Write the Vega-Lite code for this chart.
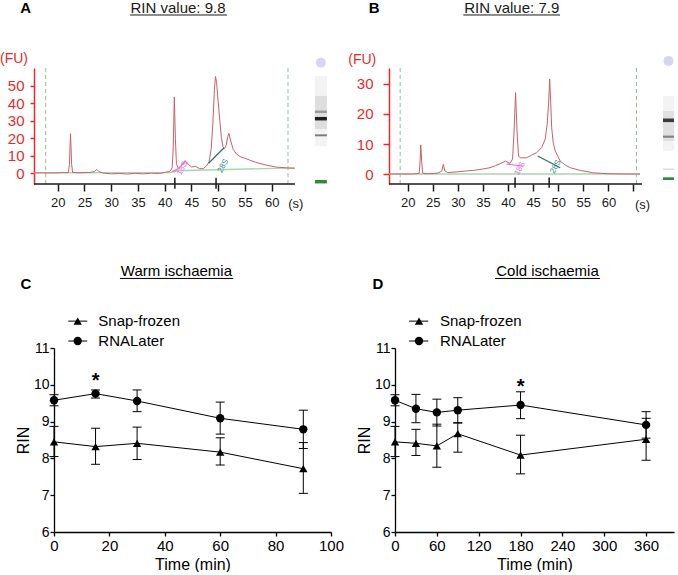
{
"$schema": "https://vega.github.io/schema/vega-lite/v6.json",
"background": "white",
"padding": {"left": 0, "top": 0, "right": 0, "bottom": 0},
"config": {"font": "Liberation Sans", "view": {"stroke": null}, "axis": {"grid": false, "labelOverlap": false, "labelBound": false, "labelFlush": false, "tickCount": 50, "format": "d"}},
"columns": 2,
"bounds": "flush",
"align": "each",
"spacing": {"row": 164, "column": 64},
"resolve": {"scale": {"x": "independent", "y": "independent", "shape": "independent", "stroke": "independent", "fill": "independent"}},
"datasets": {
"traceA": [{"t":15.6,"fu":0},{"t":17,"fu":0.1},{"t":19,"fu":0},{"t":21,"fu":0.2},{"t":22,"fu":0.2},{"t":22.2,"fu":5},{"t":22.4,"fu":22.6},{"t":22.6,"fu":5},{"t":22.8,"fu":0.3},{"t":24,"fu":0.1},{"t":26,"fu":0.3},{"t":26.9,"fu":0.8},{"t":27.3,"fu":2.1},{"t":27.7,"fu":0.8},{"t":28.5,"fu":0},{"t":30,"fu":-0.5},{"t":31.5,"fu":-0.3},{"t":33,"fu":-0.6},{"t":34.5,"fu":-0.2},{"t":36,"fu":-0.5},{"t":37.5,"fu":-0.1},{"t":39,"fu":-0.3},{"t":40,"fu":0.3},{"t":41,"fu":1.0},{"t":41.4,"fu":3},{"t":41.6,"fu":15},{"t":41.8,"fu":43.7},{"t":42,"fu":20},{"t":42.2,"fu":5},{"t":42.6,"fu":2.5},{"t":43.2,"fu":4.5},{"t":43.8,"fu":6.9},{"t":44.4,"fu":5},{"t":45,"fu":3.5},{"t":45.8,"fu":3.8},{"t":46.5,"fu":2.5},{"t":47.2,"fu":2.5},{"t":47.8,"fu":4},{"t":48.3,"fu":6.5},{"t":48.7,"fu":14},{"t":49,"fu":28},{"t":49.3,"fu":48},{"t":49.5,"fu":55.5},{"t":49.7,"fu":52},{"t":50,"fu":41},{"t":50.3,"fu":30},{"t":50.6,"fu":20.5},{"t":50.9,"fu":15},{"t":51.2,"fu":14},{"t":51.5,"fu":16},{"t":51.8,"fu":21},{"t":52,"fu":22.8},{"t":52.3,"fu":19},{"t":52.8,"fu":13.6},{"t":53.4,"fu":11},{"t":54.1,"fu":9.4},{"t":55,"fu":8.5},{"t":55.9,"fu":7.4},{"t":57,"fu":6.2},{"t":58.4,"fu":5},{"t":59.5,"fu":4.2},{"t":60.9,"fu":3.4},{"t":62.5,"fu":3},{"t":64.3,"fu":2.7}],
"baseA": [{"t":15.6,"fu":0.1},{"t":41.2,"fu":0.3},{"t":42.5,"fu":1.3},{"t":64.3,"fu":3.0}],
"segA": [{"seg":"18S","t":41.4,"fu":0.8},{"seg":"18S","t":42.6,"fu":2.5},{"seg":"18S","t":43.2,"fu":4.5},{"seg":"18S","t":43.8,"fu":6.9},{"seg":"18S","t":44.4,"fu":5.0},{"seg":"28S","t":48.2,"fu":5.6},{"seg":"28S","t":51.1,"fu":14.5}],
"gelA": [{"part":"lane","t1":68.08,"t2":70.32,"top":55.7,"bottom":15.5},{"part":"smear","t1":68.08,"t2":70.32,"top":44.3,"bottom":25.3},{"part":"faint band","t1":68.08,"t2":70.32,"top":35.9,"bottom":34.5},{"part":"dark band","t1":68.08,"t2":70.32,"top":32.2,"bottom":30.2},{"part":"mid band","t1":68.08,"t2":70.32,"top":22.2,"bottom":21.1},{"part":"marker","t1":68.08,"t2":70.32,"top":-4.0,"bottom":-6.0}],
"traceB": [{"t":16.3,"fu":0},{"t":18.5,"fu":0},{"t":21,"fu":0},{"t":22.3,"fu":0.2},{"t":22.5,"fu":5},{"t":22.6,"fu":9.7},{"t":22.8,"fu":4},{"t":23,"fu":0.2},{"t":24.3,"fu":0.1},{"t":26,"fu":0.3},{"t":26.8,"fu":1.0},{"t":27.1,"fu":3.2},{"t":27.4,"fu":1.0},{"t":28,"fu":0.5},{"t":29.8,"fu":0.7},{"t":31.5,"fu":1.0},{"t":33.1,"fu":1.2},{"t":34.8,"fu":1.6},{"t":36.4,"fu":2.1},{"t":37.5,"fu":2.8},{"t":38.4,"fu":3.4},{"t":39.5,"fu":4.3},{"t":40.4,"fu":3.5},{"t":40.9,"fu":5},{"t":41.2,"fu":14},{"t":41.5,"fu":27.1},{"t":41.8,"fu":14},{"t":42.1,"fu":6},{"t":42.4,"fu":5.4},{"t":43.7,"fu":5.4},{"t":44.7,"fu":6.3},{"t":45.7,"fu":7.1},{"t":46.7,"fu":8.8},{"t":47.4,"fu":11.6},{"t":47.8,"fu":16.6},{"t":48.1,"fu":24},{"t":48.3,"fu":31.6},{"t":48.5,"fu":24},{"t":48.7,"fu":15.4},{"t":49,"fu":10.5},{"t":49.4,"fu":7.7},{"t":50.4,"fu":4.3},{"t":51.4,"fu":3.0},{"t":52.4,"fu":2.1},{"t":54.4,"fu":1.2},{"t":57,"fu":0.4},{"t":59.7,"fu":0.1},{"t":63,"fu":0},{"t":66.3,"fu":0}],
"baseB": [{"t":16.3,"fu":0},{"t":66.3,"fu":0}],
"segB": [{"seg":"18S","t":39.7,"fu":3.4},{"seg":"18S","t":41.2,"fu":3.0},{"seg":"18S","t":43.0,"fu":2.6},{"seg":"28S","t":45.9,"fu":6.0},{"seg":"28S","t":50.4,"fu":2.1}],
"gelB": [{"part":"lane","t1":70.88,"t2":73.08,"top":26,"bottom":7.7},{"part":"smear","t1":70.88,"t2":73.08,"top":21,"bottom":11},{"part":"dark band","t1":70.88,"t2":73.08,"top":18.5,"bottom":17.3},{"part":"mid band","t1":70.88,"t2":73.08,"top":12.8,"bottom":12.1},{"part":"faint band","t1":70.88,"t2":73.08,"top":1.8,"bottom":1.4},{"part":"marker","t1":70.88,"t2":73.08,"top":-1.1,"bottom":-2.0}],
"warm": [
{"series":"Snap-frozen","time":0,"rin":8.45,"lo":8.05,"hi":8.87},
{"series":"Snap-frozen","time":15,"rin":8.32,"lo":7.84,"hi":8.82},
{"series":"Snap-frozen","time":30,"rin":8.41,"lo":7.97,"hi":8.85},
{"series":"Snap-frozen","time":60,"rin":8.17,"lo":7.82,"hi":8.56},
{"series":"Snap-frozen","time":90,"rin":7.72,"lo":7.05,"hi":8.43},
{"series":"RNALater","time":0,"rin":9.58,"lo":9.43,"hi":9.73},
{"series":"RNALater","time":15,"rin":9.76,"lo":9.64,"hi":9.86},
{"series":"RNALater","time":30,"rin":9.56,"lo":9.27,"hi":9.86},
{"series":"RNALater","time":60,"rin":9.09,"lo":8.66,"hi":9.53},
{"series":"RNALater","time":90,"rin":8.79,"lo":8.27,"hi":9.31}],
"cold": [
{"series":"Snap-frozen","time":0,"rin":8.45,"lo":8.05,"hi":8.87},
{"series":"Snap-frozen","time":30,"rin":8.41,"lo":8.08,"hi":8.79},
{"series":"Snap-frozen","time":60,"rin":8.34,"lo":7.76,"hi":8.93},
{"series":"Snap-frozen","time":90,"rin":8.67,"lo":8.17,"hi":8.97},
{"series":"Snap-frozen","time":180,"rin":8.09,"lo":7.58,"hi":8.63},
{"series":"Snap-frozen","time":360,"rin":8.52,"lo":7.95,"hi":9.09},
{"series":"RNALater","time":0,"rin":9.58,"lo":9.43,"hi":9.73},
{"series":"RNALater","time":30,"rin":9.35,"lo":8.97,"hi":9.74},
{"series":"RNALater","time":60,"rin":9.25,"lo":8.88,"hi":9.61},
{"series":"RNALater","time":90,"rin":9.31,"lo":8.96,"hi":9.65},
{"series":"RNALater","time":180,"rin":9.45,"lo":9.08,"hi":9.81},
{"series":"RNALater","time":360,"rin":8.91,"lo":8.55,"hi":9.27}],
"legC": [{"series":"Snap-frozen","x1":5.16,"x2":12.0,"xm":8.55,"xt":16.0,"y":11.73},{"series":"RNALater","x1":5.16,"x2":12.0,"xm":8.55,"xt":16.0,"y":11.19}],
"legD": [{"series":"Snap-frozen","x1":20.1,"x2":47.7,"xm":34.4,"xt":64.5,"y":11.73},{"series":"RNALater","x1":20.1,"x2":47.7,"xm":34.4,"xt":64.5,"y":11.19}]
},
"concat": [
{
"width": 241, "height": 116,
"layer": [
{"data": {"values": [{"t":17.76},{"t":63.05}]},
 "mark": {"type":"rule","color":"#8dbf9b","strokeDash":[4,3],"strokeWidth":1},
 "encoding": {"x": {"field":"t","type":"quantitative","scale":{"domain":[19.31,64.36],"nice":false,"zero":false,"padding":0},
   "axis":{"values":[20,25,30,35,40,45,50,55,60],"tickCount":50,"format":"d","domain":false,"tickColor":"#1a1a1a","tickWidth":1.5,"tickSize":7,"labelFontSize":13,"labelColor":"#1a1a1a","labelPadding":5,"labelFlush":false,"labelOverlap":false,"title":null,"grid":false}}}},
{"data": {"name":"baseA"}, "mark": {"type":"line","color":"#a6d8b0","strokeWidth":1.3},
 "encoding": {"x": {"field":"t","type":"quantitative"},
   "y": {"field":"fu","type":"quantitative","scale":{"domain":[-6.32,60.34],"nice":false,"zero":false,"padding":0},
   "axis":{"values":[0,10,20,30,40,50],"tickCount":50,"format":"d","offset":20,"domainColor":"#e32b2b","domainWidth":1.5,"tickColor":"#e32b2b","tickWidth":1.5,"tickSize":4,"labelColor":"#e32b2b","labelFontSize":15,"labelPadding":6,"labelFlush":false,"labelOverlap":false,"title":null,"grid":false}}}},
{"data": {"name":"traceA"}, "mark": {"type":"line","color":"#c9606a","strokeWidth":1},
 "encoding": {"x": {"field":"t","type":"quantitative"}, "y": {"field":"fu","type":"quantitative"}}},
{"data": {"name":"segA"}, "mark": {"type":"line","strokeWidth":1.2},
 "encoding": {"x": {"field":"t","type":"quantitative"}, "y": {"field":"fu","type":"quantitative"},
   "stroke": {"field":"seg","type":"nominal","scale":{"domain":["18S","28S"],"range":["#e070d8","#2d6e68"]},"legend":null}}},
{"data": {"values": [{"t":15.57,"t2":64.36}]}, "mark": {"type":"rule","color":"#1a1a1a","strokeWidth":1.5},
 "encoding": {"x": {"field":"t","type":"quantitative"}, "x2": {"field":"t2"}, "y": {"datum": -6.32}}},
{"data": {"values": [{"t":41.9},{"t":49.6}]}, "mark": {"type":"rule","color":"#1a1a1a","strokeWidth":1.5},
 "encoding": {"x": {"field":"t","type":"quantitative"}, "y": {"datum": -2.7}, "y2": {"datum": -9}}},
{"data": {"name":"gelA"}, "mark": {"type":"rect"},
 "encoding": {"x": {"field":"t1","type":"quantitative"}, "x2": {"field":"t2"}, "y": {"field":"top","type":"quantitative"}, "y2": {"field":"bottom"},
   "fill": {"field":"part","type":"nominal","scale":{"domain":["lane","smear","faint band","dark band","mid band","marker"],"range":["#f3f3f3","#dedede","#9a9a9a","#1e1e1e","#7a7a7a","#2e8b3c"]},"legend":null}}},
{"data": {"values": [{"t":69.2,"fu":63.4}]}, "mark": {"type":"point","filled":true,"shape":"circle","size":100,"color":"#d6d6f0","opacity":1},
 "encoding": {"x": {"field":"t","type":"quantitative"}, "y": {"field":"fu","type":"quantitative"}}},
{"data": {"values": [{"t":43.33,"fu":2.6,"label":"18S"}]}, "mark": {"type":"text","angle":-62,"fontSize":8,"color":"#e070d8","align":"center","baseline":"middle"},
 "encoding": {"x": {"field":"t","type":"quantitative"}, "y": {"field":"fu","type":"quantitative"}, "text": {"field":"label"}}},
{"data": {"values": [{"t":50.96,"fu":4.0,"label":"28S"}]}, "mark": {"type":"text","angle":-62,"fontSize":8,"color":"#2d8a84","align":"center","baseline":"middle"},
 "encoding": {"x": {"field":"t","type":"quantitative"}, "y": {"field":"fu","type":"quantitative"}, "text": {"field":"label"}}},
{"data": {"values": [{"t":9.22,"fu":65.5,"label":"(FU)"}]}, "mark": {"type":"text","align":"left","baseline":"middle","fontSize":14,"color":"#e32b2b"},
 "encoding": {"x": {"field":"t","type":"quantitative"}, "y": {"field":"fu","type":"quantitative"}, "text": {"field":"label"}}},
{"data": {"values": [{"t":63.1,"fu":-18.1,"label":"(s)"}]}, "mark": {"type":"text","align":"left","baseline":"middle","fontSize":13,"color":"#1a1a1a"},
 "encoding": {"x": {"field":"t","type":"quantitative"}, "y": {"field":"fu","type":"quantitative"}, "text": {"field":"label"}}},
{"data": {"values": [{"t":14.02,"fu":92.1,"label":"A"}]}, "mark": {"type":"text","align":"center","baseline":"alphabetic","fontSize":15,"fontWeight":"bold","color":"black"},
 "encoding": {"x": {"field":"t","type":"quantitative"}, "y": {"field":"fu","type":"quantitative"}, "text": {"field":"label"}}},
{"data": {"values": [{"t":42.49,"fu":91.67,"label":"RIN value: 9.8"}]}, "mark": {"type":"text","align":"center","baseline":"alphabetic","fontSize":15,"color":"#1a1a1a"},
 "encoding": {"x": {"field":"t","type":"quantitative"}, "y": {"field":"fu","type":"quantitative"}, "text": {"field":"label"}}},
{"data": {"values": [{"t":33.52,"t2":51.65,"fu":90.8}]}, "mark": {"type":"rule","color":"#1a1a1a","strokeWidth":1},
 "encoding": {"x": {"field":"t","type":"quantitative"}, "x2": {"field":"t2"}, "y": {"field":"fu","type":"quantitative"}}}
]
},
{
"width": 247, "height": 116,
"layer": [
{"data": {"values": [{"t":18.5},{"t":65.6}]},
 "mark": {"type":"rule","color":"#8dbf9b","strokeDash":[4,3],"strokeWidth":1},
 "encoding": {"x": {"field":"t","type":"quantitative","scale":{"domain":[17.47,66.7],"nice":false,"zero":false,"padding":0},
   "axis":{"values":[20,25,30,35,40,45,50,55,60,65],"tickCount":50,"format":"d","labelExpr":"datum.value == 65 ? '' : datum.label","domain":false,"tickColor":"#1a1a1a","tickWidth":1.5,"tickSize":7,"labelFontSize":13,"labelColor":"#1a1a1a","labelPadding":5,"labelFlush":false,"labelOverlap":false,"title":null,"grid":false}}}},
{"data": {"name":"baseB"}, "mark": {"type":"line","color":"#a6d8b0","strokeWidth":1.3},
 "encoding": {"x": {"field":"t","type":"quantitative"},
   "y": {"field":"fu","type":"quantitative","scale":{"domain":[-3.33,35.33],"nice":false,"zero":false,"padding":0},
   "axis":{"values":[0,10,20,30],"tickCount":50,"format":"d","offset":6,"domainColor":"#e32b2b","domainWidth":1.5,"tickColor":"#e32b2b","tickWidth":1.5,"tickSize":6,"labelColor":"#e32b2b","labelFontSize":15,"labelPadding":10,"labelFlush":false,"labelOverlap":false,"title":null,"grid":false}}}},
{"data": {"name":"traceB"}, "mark": {"type":"line","color":"#c9606a","strokeWidth":1},
 "encoding": {"x": {"field":"t","type":"quantitative"}, "y": {"field":"fu","type":"quantitative"}}},
{"data": {"name":"segB"}, "mark": {"type":"line","strokeWidth":1.2},
 "encoding": {"x": {"field":"t","type":"quantitative"}, "y": {"field":"fu","type":"quantitative"},
   "stroke": {"field":"seg","type":"nominal","scale":{"domain":["18S","28S"],"range":["#e070d8","#2d6e68"]},"legend":null}}},
{"data": {"values": [{"t":16.3,"t2":66.7}]}, "mark": {"type":"rule","color":"#1a1a1a","strokeWidth":1.5},
 "encoding": {"x": {"field":"t","type":"quantitative"}, "x2": {"field":"t2"}, "y": {"datum": -3.33}}},
{"data": {"values": [{"t":41.4},{"t":48.2}]}, "mark": {"type":"rule","color":"#1a1a1a","strokeWidth":1.5},
 "encoding": {"x": {"field":"t","type":"quantitative"}, "y": {"datum": -1.2}, "y2": {"datum": -4.6}}},
{"data": {"name":"gelB"}, "mark": {"type":"rect"},
 "encoding": {"x": {"field":"t1","type":"quantitative"}, "x2": {"field":"t2"}, "y": {"field":"top","type":"quantitative"}, "y2": {"field":"bottom"},
   "fill": {"field":"part","type":"nominal","scale":{"domain":["lane","smear","faint band","dark band","mid band","marker"],"range":["#f3f3f3","#e0e0e0","#d4d4d4","#3a3a3a","#808080","#2e8b3c"]},"legend":null}}},
{"data": {"values": [{"t":71.98,"fu":37.7}]}, "mark": {"type":"point","filled":true,"shape":"circle","size":100,"color":"#d6d6f0","opacity":1},
 "encoding": {"x": {"field":"t","type":"quantitative"}, "y": {"field":"fu","type":"quantitative"}}},
{"data": {"values": [{"t":42.39,"fu":1.8,"label":"18S"}]}, "mark": {"type":"text","angle":-62,"fontSize":8,"color":"#e070d8","align":"center","baseline":"middle"},
 "encoding": {"x": {"field":"t","type":"quantitative"}, "y": {"field":"fu","type":"quantitative"}, "text": {"field":"label"}}},
{"data": {"values": [{"t":49.52,"fu":2.4,"label":"28S"}]}, "mark": {"type":"text","angle":-62,"fontSize":8,"color":"#2d8a84","align":"center","baseline":"middle"},
 "encoding": {"x": {"field":"t","type":"quantitative"}, "y": {"field":"fu","type":"quantitative"}, "text": {"field":"label"}}},
{"data": {"values": [{"t":8.16,"fu":38.1,"label":"(FU)"}]}, "mark": {"type":"text","align":"left","baseline":"middle","fontSize":14,"color":"#e32b2b"},
 "encoding": {"x": {"field":"t","type":"quantitative"}, "y": {"field":"fu","type":"quantitative"}, "text": {"field":"label"}}},
{"data": {"values": [{"t":65.31,"fu":-10.17,"label":"(s)"}]}, "mark": {"type":"text","align":"left","baseline":"middle","fontSize":13,"color":"#1a1a1a"},
 "encoding": {"x": {"field":"t","type":"quantitative"}, "y": {"field":"fu","type":"quantitative"}, "text": {"field":"label"}}},
{"data": {"values": [{"t":13.32,"fu":53.77,"label":"B"}]}, "mark": {"type":"text","align":"center","baseline":"alphabetic","fontSize":15,"fontWeight":"bold","color":"black"},
 "encoding": {"x": {"field":"t","type":"quantitative"}, "y": {"field":"fu","type":"quantitative"}, "text": {"field":"label"}}},
{"data": {"values": [{"t":40.73,"fu":53.5,"label":"RIN value: 7.9"}]}, "mark": {"type":"text","align":"center","baseline":"alphabetic","fontSize":15,"color":"#1a1a1a"},
 "encoding": {"x": {"field":"t","type":"quantitative"}, "y": {"field":"fu","type":"quantitative"}, "text": {"field":"label"}}},
{"data": {"values": [{"t":31.08,"t2":50.36,"fu":53.0}]}, "mark": {"type":"rule","color":"#1a1a1a","strokeWidth":1},
 "encoding": {"x": {"field":"t","type":"quantitative"}, "x2": {"field":"t2"}, "y": {"field":"fu","type":"quantitative"}}}
]
},
{
"width": 277, "height": 184,
"layer": [
{"data": {"name":"warm"}, "mark": {"type":"rule","color":"black","strokeWidth":1},
 "encoding": {
  "x": {"field":"time","type":"quantitative","scale":{"domain":[0,100],"nice":false,"zero":false,"padding":0},
   "axis":{"values":[0,20,40,60,80,100],"tickCount":50,"format":"d","title":"Time (min)","titleFontSize":16,"titleFontWeight":"normal","titleColor":"black","titlePadding":3,"labelFontSize":15,"labelColor":"black","labelPadding":2,"labelFlush":false,"labelOverlap":false,"domainColor":"black","domainWidth":1.3,"tickColor":"black","tickWidth":1.3,"tickSize":4,"grid":false}},
  "y": {"field":"lo","type":"quantitative","scale":{"domain":[6,11],"nice":false,"zero":false,"padding":0},
   "axis":{"values":[6,7,8,9,10,11],"tickCount":50,"format":"d","title":"RIN","titleFontSize":16,"titleFontWeight":"normal","titleColor":"black","titlePadding":2,"labelFontSize":14,"labelColor":"black","labelPadding":1,"labelFlush":false,"labelOverlap":false,"domainColor":"black","domainWidth":1.3,"tickColor":"black","tickWidth":1.3,"tickSize":4,"grid":false}},
  "y2": {"field":"hi"}}},
{"data": {"name":"warm"}, "mark": {"type":"tick","orient":"horizontal","size":9,"thickness":1,"color":"black","opacity":1},
 "encoding": {"x": {"field":"time","type":"quantitative"}, "y": {"field":"lo","type":"quantitative"}}},
{"data": {"name":"warm"}, "mark": {"type":"tick","orient":"horizontal","size":9,"thickness":1,"color":"black","opacity":1},
 "encoding": {"x": {"field":"time","type":"quantitative"}, "y": {"field":"hi","type":"quantitative"}}},
{"data": {"name":"warm"}, "mark": {"type":"line","color":"black","strokeWidth":1},
 "encoding": {"x": {"field":"time","type":"quantitative"}, "y": {"field":"rin","type":"quantitative"}, "detail": {"field":"series","type":"nominal"}}},
{"data": {"name":"warm"}, "mark": {"type":"point","filled":true,"color":"black","opacity":1,"size":70},
 "encoding": {"x": {"field":"time","type":"quantitative"}, "y": {"field":"rin","type":"quantitative"},
  "shape": {"field":"series","type":"nominal","scale":{"domain":["Snap-frozen","RNALater"],"range":["triangle-up","circle"]},"legend":null}}},
{"data": {"name":"legC"}, "mark": {"type":"rule","color":"black","strokeWidth":1},
 "encoding": {"x": {"field":"x1","type":"quantitative"}, "x2": {"field":"x2"}, "y": {"field":"y","type":"quantitative"}}},
{"data": {"name":"legC"}, "mark": {"type":"point","filled":true,"color":"black","opacity":1,"size":70},
 "encoding": {"x": {"field":"xm","type":"quantitative"}, "y": {"field":"y","type":"quantitative"},
  "shape": {"field":"series","type":"nominal","legend":null}}},
{"data": {"name":"legC"}, "mark": {"type":"text","align":"left","baseline":"middle","fontSize":15,"color":"black"},
 "encoding": {"x": {"field":"xt","type":"quantitative"}, "y": {"field":"y","type":"quantitative"}, "text": {"field":"series"}}},
{"data": {"values": [{"x":44.2,"y":12.97,"label":"Warm ischaemia"}]}, "mark": {"type":"text","align":"center","baseline":"alphabetic","fontSize":15,"color":"black"},
 "encoding": {"x": {"field":"x","type":"quantitative"}, "y": {"field":"y","type":"quantitative"}, "text": {"field":"label"}}},
{"data": {"values": [{"x":23.8,"x2":64.7,"y":12.89}]}, "mark": {"type":"rule","color":"black","strokeWidth":1},
 "encoding": {"x": {"field":"x","type":"quantitative"}, "x2": {"field":"x2"}, "y": {"field":"y","type":"quantitative"}}},
{"data": {"values": [{"x":-10.18,"y":12.595,"label":"C"}]}, "mark": {"type":"text","align":"center","baseline":"alphabetic","fontSize":15,"fontWeight":"bold","color":"black"},
 "encoding": {"x": {"field":"x","type":"quantitative"}, "y": {"field":"y","type":"quantitative"}, "text": {"field":"label"}}},
{"data": {"values": [{"x":15,"y":9.93,"label":"*"}]}, "mark": {"type":"text","align":"center","baseline":"alphabetic","fontSize":20,"fontWeight":"bold","color":"black"},
 "encoding": {"x": {"field":"x","type":"quantitative"}, "y": {"field":"y","type":"quantitative"}, "text": {"field":"label"}}}
]
},
{
"width": 279, "height": 184,
"layer": [
{"data": {"name":"cold"}, "mark": {"type":"rule","color":"black","strokeWidth":1},
 "encoding": {
  "x": {"field":"time","type":"quantitative","scale":{"domain":[0,400],"nice":false,"zero":false,"padding":0},
   "axis":{"values":[0,60,120,180,240,300,360],"tickCount":50,"format":"d","title":"Time (min)","titleFontSize":16,"titleFontWeight":"normal","titleColor":"black","titlePadding":3,"labelFontSize":15,"labelColor":"black","labelPadding":2,"labelFlush":false,"labelOverlap":false,"domainColor":"black","domainWidth":1.3,"tickColor":"black","tickWidth":1.3,"tickSize":4,"grid":false}},
  "y": {"field":"lo","type":"quantitative","scale":{"domain":[6,11],"nice":false,"zero":false,"padding":0},
   "axis":{"values":[6,7,8,9,10,11],"tickCount":50,"format":"d","title":"RIN","titleFontSize":16,"titleFontWeight":"normal","titleColor":"black","titlePadding":2,"labelFontSize":14,"labelColor":"black","labelPadding":1,"labelFlush":false,"labelOverlap":false,"domainColor":"black","domainWidth":1.3,"tickColor":"black","tickWidth":1.3,"tickSize":4,"grid":false}},
  "y2": {"field":"hi"}}},
{"data": {"name":"cold"}, "mark": {"type":"tick","orient":"horizontal","size":9,"thickness":1,"color":"black","opacity":1},
 "encoding": {"x": {"field":"time","type":"quantitative"}, "y": {"field":"lo","type":"quantitative"}}},
{"data": {"name":"cold"}, "mark": {"type":"tick","orient":"horizontal","size":9,"thickness":1,"color":"black","opacity":1},
 "encoding": {"x": {"field":"time","type":"quantitative"}, "y": {"field":"hi","type":"quantitative"}}},
{"data": {"name":"cold"}, "mark": {"type":"line","color":"black","strokeWidth":1},
 "encoding": {"x": {"field":"time","type":"quantitative"}, "y": {"field":"rin","type":"quantitative"}, "detail": {"field":"series","type":"nominal"}}},
{"data": {"name":"cold"}, "mark": {"type":"point","filled":true,"color":"black","opacity":1,"size":70},
 "encoding": {"x": {"field":"time","type":"quantitative"}, "y": {"field":"rin","type":"quantitative"},
  "shape": {"field":"series","type":"nominal","scale":{"domain":["Snap-frozen","RNALater"],"range":["triangle-up","circle"]},"legend":null}}},
{"data": {"name":"legD"}, "mark": {"type":"rule","color":"black","strokeWidth":1},
 "encoding": {"x": {"field":"x1","type":"quantitative"}, "x2": {"field":"x2"}, "y": {"field":"y","type":"quantitative"}}},
{"data": {"name":"legD"}, "mark": {"type":"point","filled":true,"color":"black","opacity":1,"size":70},
 "encoding": {"x": {"field":"xm","type":"quantitative"}, "y": {"field":"y","type":"quantitative"},
  "shape": {"field":"series","type":"nominal","legend":null}}},
{"data": {"name":"legD"}, "mark": {"type":"text","align":"left","baseline":"middle","fontSize":15,"color":"black"},
 "encoding": {"x": {"field":"xt","type":"quantitative"}, "y": {"field":"y","type":"quantitative"}, "text": {"field":"series"}}},
{"data": {"values": [{"x":218.6,"y":12.97,"label":"Cold ischaemia"}]}, "mark": {"type":"text","align":"center","baseline":"alphabetic","fontSize":15,"color":"black"},
 "encoding": {"x": {"field":"x","type":"quantitative"}, "y": {"field":"y","type":"quantitative"}, "text": {"field":"label"}}},
{"data": {"values": [{"x":143.4,"x2":294.0,"y":12.89}]}, "mark": {"type":"rule","color":"black","strokeWidth":1},
 "encoding": {"x": {"field":"x","type":"quantitative"}, "x2": {"field":"x2"}, "y": {"field":"y","type":"quantitative"}}},
{"data": {"values": [{"x":-24.4,"y":12.595,"label":"D"}]}, "mark": {"type":"text","align":"center","baseline":"alphabetic","fontSize":15,"fontWeight":"bold","color":"black"},
 "encoding": {"x": {"field":"x","type":"quantitative"}, "y": {"field":"y","type":"quantitative"}, "text": {"field":"label"}}},
{"data": {"values": [{"x":180,"y":9.775,"label":"*"}]}, "mark": {"type":"text","align":"center","baseline":"alphabetic","fontSize":20,"fontWeight":"bold","color":"black"},
 "encoding": {"x": {"field":"x","type":"quantitative"}, "y": {"field":"y","type":"quantitative"}, "text": {"field":"label"}}}
]
}
]
}
